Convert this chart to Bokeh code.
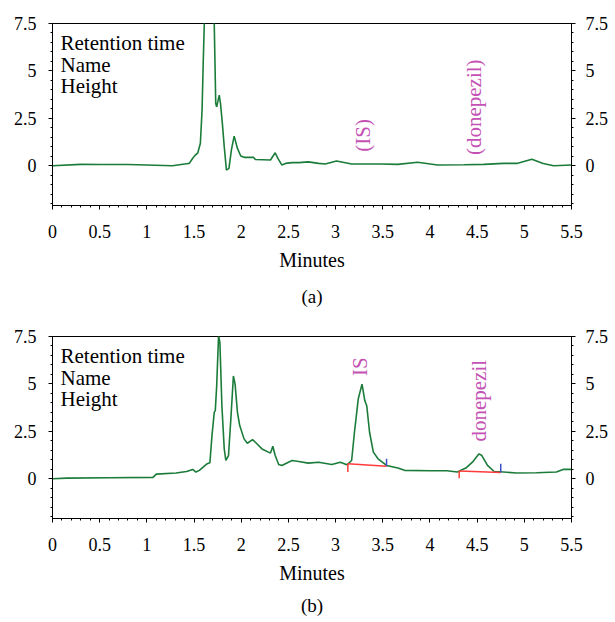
import math
from bokeh.plotting import figure
from bokeh.layouts import column
from bokeh.models import FixedTicker, LinearAxis, Range1d, Title
from bokeh.core.properties import value
from bokeh.embed import file_html
from bokeh.resources import INLINE

FONT = "Liberation Serif, DejaVu Serif, Times New Roman, serif"
GREEN = "#1b7c3a"
MAGENTA = "#c452b4"
RED = "#ff3b3b"
BLUE = "#3a4fc4"

# ---- axes ----
x_ticks = [0, 0.5, 1, 1.5, 2, 2.5, 3, 3.5, 4, 4.5, 5, 5.5]
x_tick_labels = ["0", "0.5", "1", "1.5", "2", "2.5", "3", "3.5", "4", "4.5", "5", "5.5"]
y_ticks = [0, 2.5, 5, 7.5]
y_tick_labels = ["0", "2.5", "5", "7.5"]
y_minor = [-2, -1.5, -1, -0.5, 0, 0.5, 1, 1.5, 2, 2.5, 3, 3.5, 4, 4.5, 5, 5.5, 6, 6.5, 7, 7.5]
x_label = "Minutes"
captions = ["(a)", "(b)"]
info_lines = ["Retention time", "Name", "Height"]
info_y = [6.47, 5.3, 4.2]
info_x = 0.085

# ---- panel (a): blank ----
time_a = [0.0, 0.3, 0.5, 0.8, 1.0, 1.27, 1.42, 1.45, 1.486, 1.514, 1.54, 1.567, 1.585, 1.598,
          1.62, 1.66, 1.70, 1.714, 1.73, 1.74, 1.767, 1.78, 1.80, 1.82, 1.843, 1.87, 1.896,
          1.925, 1.96, 1.995, 2.03, 2.13, 2.15, 2.31, 2.36, 2.39, 2.43, 2.47, 2.54, 2.61,
          2.71, 2.82, 2.89, 3.01, 3.17, 3.48, 3.66, 3.87, 4.08, 4.36, 4.57, 4.78, 4.92,
          5.08, 5.20, 5.31, 5.5]
signal_a = [0.0, 0.07, 0.06, 0.06, 0.04, 0.0, 0.1, 0.12, 0.39, 0.56, 0.68, 1.18, 2.93, 5.56,
            9.5, 10.5, 9.0, 7.5, 3.28, 3.1, 3.72, 3.3, 2.23, 1.0, -0.23, -0.14, 0.83,
            1.56, 0.91, 0.51, 0.44, 0.44, 0.33, 0.30, 0.68, 0.37, 0.04, 0.12, 0.16, 0.16,
            0.2, 0.12, 0.09, 0.25, 0.09, 0.09, 0.07, 0.18, 0.04, 0.05, 0.07, 0.12, 0.12,
            0.34, 0.12, 0.0, 0.04]
peaks_a = ["(IS)", "(donepezil)"]
peaks_a_x = [3.29, 4.47]
peaks_a_y = [0.74, 0.56]

# ---- panel (b): sample ----
time_b = [0.0, 0.154, 0.6, 1.065, 1.10, 1.31, 1.42, 1.486, 1.52, 1.556, 1.64, 1.668, 1.69,
          1.714, 1.725, 1.74, 1.76, 1.774, 1.795, 1.82, 1.837, 1.865, 1.89, 1.917, 1.935,
          1.96, 1.984, 2.03, 2.065, 2.12, 2.15, 2.22, 2.31, 2.335, 2.36, 2.397, 2.43, 2.50,
          2.54, 2.61, 2.71, 2.82, 2.96, 3.05, 3.12, 3.17, 3.20, 3.24, 3.28, 3.31, 3.33,
          3.36, 3.40, 3.45, 3.54, 3.66, 3.73, 4.01, 4.18, 4.29, 4.38, 4.45, 4.52, 4.55,
          4.61, 4.68, 4.78, 4.92, 5.13, 5.34, 5.41, 5.5]
signal_b = [0.0, 0.03, 0.05, 0.07, 0.24, 0.3, 0.38, 0.49, 0.35, 0.44, 0.79, 0.84, 2.27,
            3.5, 3.59, 4.9, 7.56, 7.17, 3.85, 1.57, 0.96, 1.22, 3.15, 5.42, 4.99,
            3.5, 2.8, 2.1, 1.87, 2.06, 1.92, 1.57, 1.35, 1.71, 1.22, 0.75, 0.70, 0.87,
            0.96, 0.91, 0.82, 0.87, 0.75, 0.87, 0.73, 0.96, 2.45, 4.2, 4.99, 4.11, 3.85,
            2.45, 1.40, 1.05, 0.70, 0.56, 0.44, 0.42, 0.42, 0.35, 0.56, 0.87, 1.31, 1.22,
            0.70, 0.38, 0.35, 0.30, 0.31, 0.35, 0.49, 0.49]
peaks_b = ["IS", "donepezil"]
peaks_b_x = [3.26, 4.52]
peaks_b_y = [5.42, 1.96]

# integration baselines (start t, start y, end t, end y)
base_t0 = [3.13, 4.31]
base_y0 = [0.79, 0.40]
base_t1 = [3.54, 4.75]
base_y1 = [0.65, 0.33]
start_tick_low = [0.35, 0.02]
end_tick_high = [1.05, 0.79]


def style_axis(ax, standoff):
    ax.axis_line_color = "black"
    ax.axis_line_width = 1
    ax.major_tick_line_color = "black"
    ax.minor_tick_line_color = "black"
    ax.major_tick_in = 0
    ax.major_tick_out = 4
    ax.minor_tick_in = 0
    ax.minor_tick_out = 2
    ax.major_label_text_font = FONT
    ax.major_label_text_font_size = "18px"
    ax.major_label_text_color = "black"
    ax.major_label_standoff = standoff


def make_panel(t, s, peak_text, peak_x, peak_y, caption, caption_standoff,
               height, border_top, border_bottom):
    p = figure(width=611, height=height, output_backend="svg", toolbar_location=None,
               x_range=Range1d(0, 5.5), y_range=Range1d(-2.1, 7.5),
               min_border_left=52, min_border_right=36, min_border_top=border_top,
               min_border_bottom=border_bottom)
    p.xgrid.visible = False
    p.ygrid.visible = False
    p.outline_line_color = "black"
    p.outline_line_width = 1
    p.background_fill_color = "white"
    p.border_fill_color = "white"

    p.xaxis.ticker = FixedTicker(ticks=x_ticks, minor_ticks=[i / 10 for i in range(56)])
    p.xaxis.major_label_overrides = dict(zip(x_ticks, x_tick_labels))
    p.xaxis.axis_label = x_label
    p.xaxis.axis_label_text_font = FONT
    p.xaxis.axis_label_text_font_size = "20px"
    p.xaxis.axis_label_text_font_style = "normal"
    p.xaxis.axis_label_text_color = "black"
    p.xaxis.axis_label_standoff = 8
    style_axis(p.xaxis[0], 15)

    p.yaxis.ticker = FixedTicker(ticks=y_ticks, minor_ticks=y_minor)
    p.yaxis.major_label_overrides = dict(zip(y_ticks, y_tick_labels))
    style_axis(p.yaxis[0], 12)

    ry = LinearAxis(ticker=FixedTicker(ticks=y_ticks, minor_ticks=y_minor),
                    major_label_overrides=dict(zip(y_ticks, y_tick_labels)))
    style_axis(ry, 10)
    p.add_layout(ry, "right")

    p.add_layout(Title(text=caption, align="center", text_font=FONT,
                       text_font_size="19px", text_font_style="normal",
                       text_color="black", standoff=caption_standoff, offset=-6), "below")

    p.line(t, s, line_color=GREEN, line_width=1.6)

    p.text(x=[info_x] * len(info_lines), y=info_y, text=info_lines,
           text_font=value(FONT), text_font_size="21px", text_color="black",
           text_align="left", text_baseline="middle")
    p.text(x=peak_x, y=peak_y, text=peak_text, angle=math.pi / 2,
           text_font=value(FONT), text_font_size="21px", text_color=MAGENTA,
           text_align="left", text_baseline="middle")
    return p


pa = make_panel(time_a, signal_a, peaks_a, peaks_a_x, peaks_a_y, captions[0], 20,
                321, 23, 116)
pb = make_panel(time_b, signal_b, peaks_b, peaks_b_x, peaks_b_y, captions[1], 12,
                300, 15, 102)

# integration marks on panel (b)
pb.segment(x0=base_t0, y0=base_y0, x1=base_t1, y1=base_y1, line_color=RED, line_width=1.5)
pb.segment(x0=base_t0, y0=base_y0, x1=base_t0, y1=start_tick_low, line_color=RED, line_width=1.5)
pb.segment(x0=base_t1, y0=base_y1, x1=base_t1, y1=end_tick_high, line_color=BLUE, line_width=1.5)

layout = column(pa, pb)
open("out.html", "w").write(file_html(layout, INLINE))
